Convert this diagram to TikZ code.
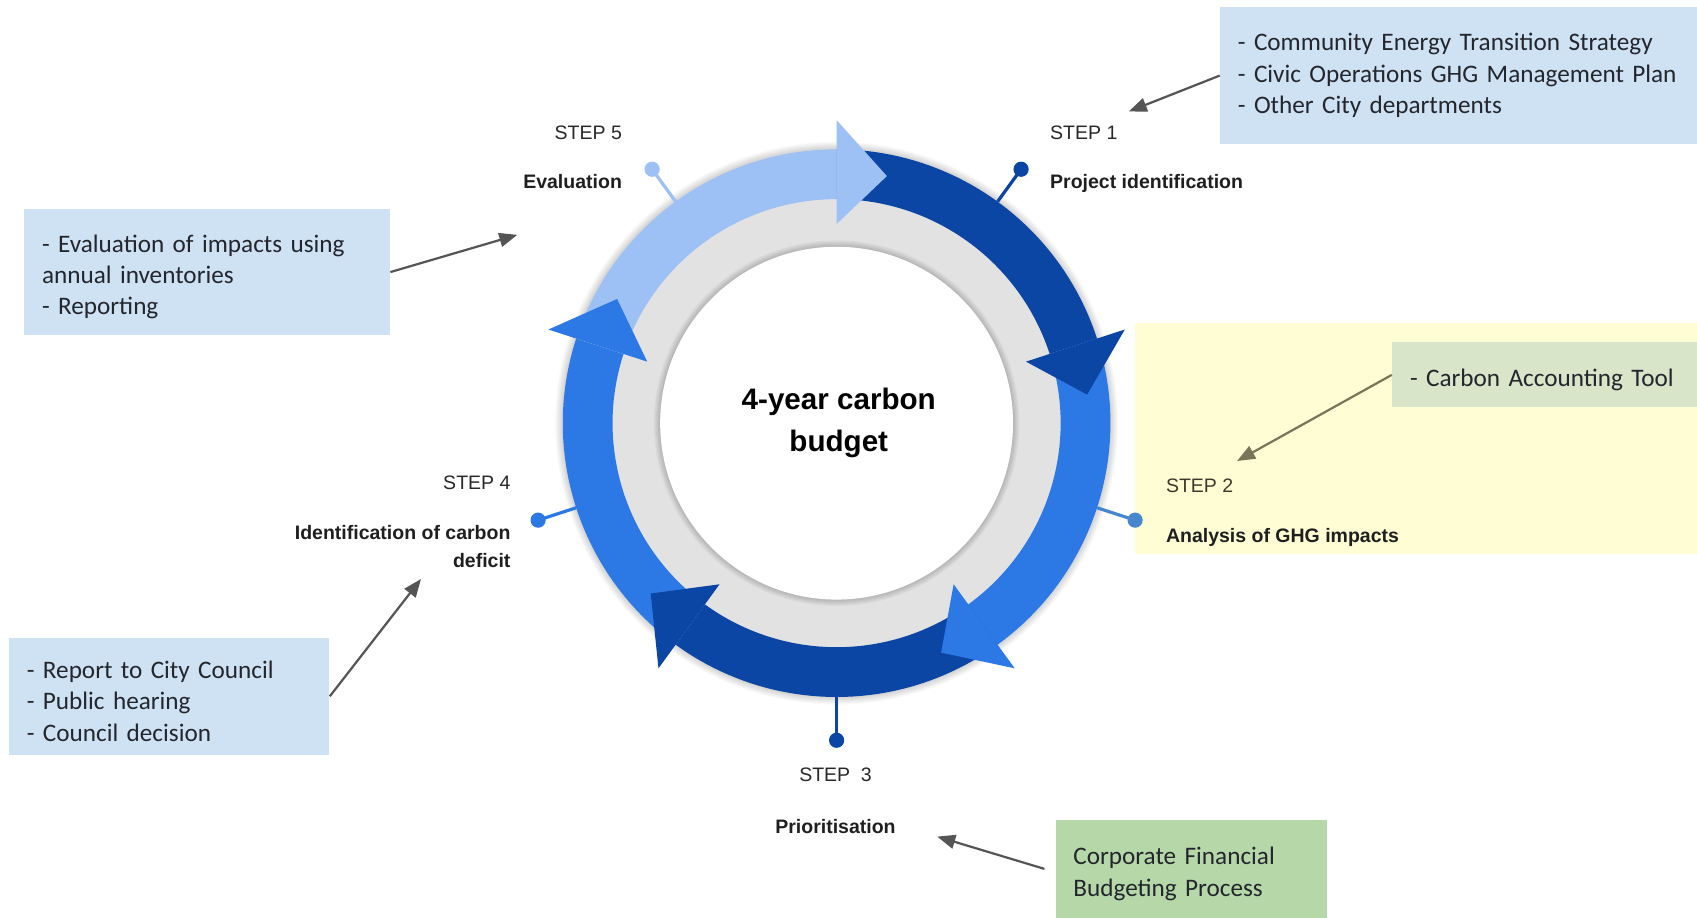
\documentclass[tikz,border=0pt]{standalone}
\usepackage{fontspec}
\setmainfont{Liberation Sans}
\newfontfamily\notefamily{Carlito}
\usetikzlibrary{arrows.meta}
\definecolor{noteblue}{RGB}{207,226,243}
\definecolor{hiyellow}{RGB}{255,253,212}
\definecolor{toolgreen}{RGB}{216,229,200}
\definecolor{budgetgreen}{RGB}{182,215,168}
\definecolor{ringlight}{RGB}{157,192,245}
\definecolor{ringmid}{RGB}{44,121,229}
\definecolor{ringdark}{RGB}{12,70,165}
\definecolor{ringgray}{RGB}{226,226,226}
\definecolor{notetext}{RGB}{35,38,45}
\definecolor{arrowgray}{RGB}{85,85,85}
\definecolor{arrowolive}{RGB}{120,118,88}
\definecolor{labeltext}{RGB}{40,40,40}
\definecolor{dotmid}{RGB}{70,135,205}
\newcommand{\ringseg}[3]{\fill[#1] (#2:253) arc[start angle=#2, end angle=#3, radius=253] -- (#3:207) arc[start angle=#3, end angle=#2, radius=207] -- cycle;}
\newcommand{\ringhead}[3]{\fill[#1] (#2:184) -- (#2:280) -- (#3:233) -- cycle;}
\newcommand{\firstgap}{\rule{0pt}{13.6pt}}
\begin{document}
\begin{tikzpicture}[x=0.54115pt, y=-0.54115pt,
  notebox/.style={rectangle, anchor=north west, inner xsep=8.9pt, inner ysep=0pt, align=left,
    font=\notefamily\fontsize{12.6pt}{15.7pt}\selectfont, text=notetext},
  steplbl/.style={inner sep=0pt, font=\fontsize{9.75pt}{14.1pt}\selectfont, text=labeltext},
  stepname/.style={inner sep=0pt, font=\fontsize{9.75pt}{14.1pt}\selectfont\bfseries, text=black!88},
  callout/.style={draw=arrowgray, line width=1.1pt, -{Triangle[length=9pt, width=7pt]}},
  stemdot/.style={circle, inner sep=0pt, minimum size=7.6pt},
  stemline/.style={line width=1.6pt}]
\useasboundingbox (0,0) rectangle (1568,848);
\fill[white] (0,0) rectangle (1568,848);
% highlight region behind step 2
\node[rectangle, anchor=north west, fill=hiyellow, minimum width=281.4pt, minimum height=115.3pt, inner sep=0pt] (hl) at (1048,298) {};
% ring
\begin{scope}[shift={(773,391)}, yscale=-1]
  \foreach \k in {1,...,7} {\fill[black, opacity=0.025] (0,0) circle[radius=253+\k];}
  \fill[ringgray] (0,0) circle[radius=212];
  \foreach \k in {1,...,6} {\fill[black, opacity=0.03] (0,0) circle[radius=163+\k];}
  \fill[white] (0,0) circle[radius=163];
  \ringseg{ringdark}{90}{18}
  \ringseg{ringmid}{18}{-54}
  \ringseg{ringdark}{-54}{-126}
  \ringseg{ringmid}{-126}{-198}
  \ringseg{ringlight}{162}{90}
  \ringhead{ringdark}{18}{6.5}
  \ringhead{ringmid}{-54}{-65.5}
  \ringhead{ringdark}{-126}{-137.5}
  \ringhead{ringmid}{-198}{-209.5}
  \ringhead{ringlight}{90}{78.5}
  \node[stemdot, fill=ringdark] (d1) at (54:290) {};
  \node[stemdot, fill=dotmid] (d2) at (-18:290) {};
  \node[stemdot, fill=ringdark] (d3) at (-90:293) {};
  \node[stemdot, fill=ringmid] (d4) at (198:290) {};
  \node[stemdot, fill=ringlight] (d5) at (126:290) {};
  \draw[stemline, ringdark] (54:253) -- (d1.center);
  \draw[stemline, dotmid] (-18:253) -- (d2.center);
  \draw[stemline, ringdark] (-90:253) -- (d3.center);
  \draw[stemline, ringmid] (198:253) -- (d4.center);
  \draw[stemline, ringlight] (126:253) -- (d5.center);
\end{scope}
\node[inner sep=0pt, align=center, font=\fontsize{14.8pt}{21.1pt}\selectfont\bfseries] (ctr) at (775,391) {4-year carbon\\budget};
% step labels
\node[steplbl, anchor=base west] (st1) at (970,128.5) {STEP 1};
\node[stepname, anchor=base west] (nm1) at (970,174.5) {Project identification};
\node[steplbl, anchor=base east] (st5) at (575,128.5) {STEP 5};
\node[stepname, anchor=base east] (nm5) at (575,174.5) {Evaluation};
\node[steplbl, anchor=base east] (st4) at (472,452.5) {STEP 4};
\node[stepname, anchor=north east, align=right] (nm4) at (472,485) {Identification of carbon\\deficit};
\node[steplbl, anchor=base west, text=black!75!olive] (st2) at (1077,455.5) {STEP 2};
\node[stepname, anchor=base west] (nm2) at (1077,501.5) {Analysis of GHG impacts};
\node[steplbl, anchor=base] (st3) at (772,722.5) {STEP\hspace{0.55em}3};
\node[stepname, anchor=base] (nm3) at (772,770.5) {Prioritisation};
% note boxes
\node[notebox, fill=noteblue, minimum width=238.6pt, minimum height=68.7pt, text width=220.8pt] (b1) at (1127,6)
  {\mbox{- Community Energy Transition Strategy}\\\mbox{- Civic Operations GHG Management Plan}\\\mbox{- Other City departments}};
\node[notebox, fill=noteblue, minimum width=182.9pt, minimum height=62.8pt, text width=165.1pt] (b2) at (22,193)
  {\firstgap- Evaluation of impacts using\\annual inventories\\- Reporting};
\node[notebox, fill=noteblue, minimum width=160.2pt, minimum height=58.4pt, text width=142.4pt] (b3) at (8,589)
  {\firstgap- Report to City Council\\- Public hearing\\- Council decision};
\node[notebox, fill=toolgreen, minimum width=152.6pt, minimum height=32.5pt, text width=134.8pt] (g1) at (1286,316)
  {\firstgap- Carbon Accounting Tool};
\node[notebox, fill=budgetgreen, minimum width=135.8pt, minimum height=49.2pt, text width=118pt] (g2) at (975,757)
  {\firstgap Corporate Financial\\Budgeting Process};
% callout arrows
\coordinate (p1) at (1043,103);
\coordinate (p5) at (478,217);
\coordinate (p4) at (389,535);
\coordinate (p2) at (1143,426);
\coordinate (p3) at (866,773);
\draw[callout] (b1.west) -- (p1);
\draw[callout] (b2.east) -- (p5);
\draw[callout] (b3.east) -- (p4);
\draw[callout, draw=arrowolive] (g1.west) -- (p2);
\draw[callout] ([xshift=-5.4pt]g2.west) -- (p3);
\end{tikzpicture}
\end{document}
